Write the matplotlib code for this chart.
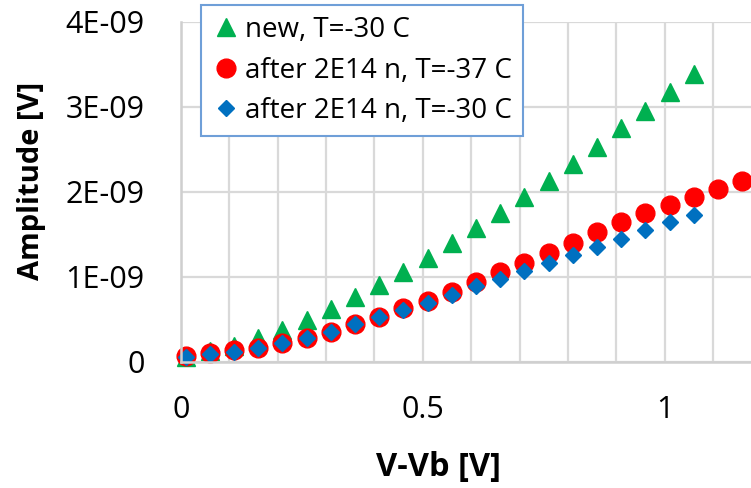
import matplotlib
matplotlib.use("Agg")
import matplotlib.pyplot as plt
import numpy as np

plt.rcParams['font.family'] = ['Open Sans', 'DejaVu Sans']

# V-Vb [V]
volt_short = [0.01, 0.06, 0.11, 0.16, 0.21, 0.26, 0.31, 0.36, 0.41, 0.46, 0.51,
              0.56, 0.61, 0.66, 0.71, 0.76, 0.81, 0.86, 0.91, 0.96, 1.01, 1.06]
volt_long = volt_short + [1.11, 1.16]

# amplitudes, in units of 1E-09 V
amp_new_30 = [0.06, 0.12, 0.18, 0.275, 0.375, 0.495, 0.62, 0.762, 0.905, 1.06, 1.223,
              1.395, 1.568, 1.752, 1.933, 2.128, 2.325, 2.528, 2.744, 2.951, 3.167, 3.385]
amp_irr_37 = [0.063, 0.102, 0.132, 0.166, 0.216, 0.275, 0.353, 0.442, 0.529, 0.628, 0.71, 0.823,
              0.941, 1.058, 1.16, 1.278, 1.395, 1.529, 1.642, 1.745, 1.848, 1.933, 2.027, 2.127]
amp_irr_30 = [0.059, 0.087, 0.118, 0.157, 0.216, 0.282, 0.353, 0.443, 0.529, 0.608, 0.694,
              0.784, 0.885, 0.976, 1.07, 1.16, 1.26, 1.348, 1.445, 1.549, 1.64, 1.72]

series_labels = ["new, T=-30 C", "after 2E14 n, T=-37 C", "after 2E14 n, T=-30 C"]

x_ticks = [0.0, 0.1, 0.2, 0.3, 0.4, 0.5, 0.6, 0.7, 0.8, 0.9, 1.0, 1.1]
x_tick_labels = ["0", "", "", "", "", "0.5", "", "", "", "", "1", ""]
y_ticks = [0, 1e-9, 2e-9, 3e-9, 4e-9]
y_tick_labels = ["0", "1E-09", "2E-09", "3E-09", "4E-09"]

W, H = 751, 488
x0, x1 = 180.7, 751      # plot area in pixels
y_top, y_bot = 21.5, 361.7
px_per_volt = 484.0

fig = plt.figure(figsize=(W / 100, H / 100), dpi=100)
ax = fig.add_axes([x0 / W, (H - y_bot) / H, (x1 - x0) / W, (y_bot - y_top) / H])

scale = 1e-9
ax.plot(volt_short, np.array(amp_new_30) * scale, linestyle="none", marker="^",
        markersize=13.5, color="#00B050", label=series_labels[0], clip_on=False)
ax.plot(volt_long, np.array(amp_irr_37) * scale, linestyle="none", marker="o",
        markersize=13.5, color="#FF0000", label=series_labels[1], clip_on=False)
ax.plot(volt_short, np.array(amp_irr_30) * scale, linestyle="none", marker="D",
        markersize=8.6, color="#0070C0", label=series_labels[2], clip_on=False)

ax.set_xlim(0, (x1 - x0) / px_per_volt)
ax.set_ylim(0, 4e-9)
ax.set_xticks(x_ticks)
ax.set_xticklabels(x_tick_labels)
ax.set_yticks(y_ticks)
ax.set_yticklabels(y_tick_labels)
ax.tick_params(axis="both", length=0, labelsize=22)
ax.tick_params(axis="x", pad=24)
ax.tick_params(axis="y", pad=26)

ax.grid(True, color="#D9D9D9", linewidth=1.6)
ax.set_axisbelow(True)
for side in ["top", "right"]:
    ax.spines[side].set_visible(False)
for side in ["left", "bottom"]:
    ax.spines[side].set_color("#CFCFCF")
    ax.spines[side].set_linewidth(1.8)

fig.text(32 / W, 1 - 181 / H, "Amplitude [V]", rotation=90, ha="center", va="center",
         fontsize=21, fontweight="bold")
fig.text(438 / W, 1 - 467 / H, "V-Vb [V]", ha="center", va="center",
         fontsize=23.5, fontweight="bold")

leg = ax.legend(loc="upper left", bbox_to_anchor=(200.7 / W, 1 - 5 / H),
                bbox_transform=fig.transFigure, borderaxespad=0, fancybox=False,
                framealpha=1, edgecolor="#6F9FD8", fontsize=20, handlelength=1.05,
                handletextpad=0.15, borderpad=0.4, labelspacing=0.45)
leg.get_frame().set_linewidth(1.5)

fig.savefig("out.png", dpi=100)
